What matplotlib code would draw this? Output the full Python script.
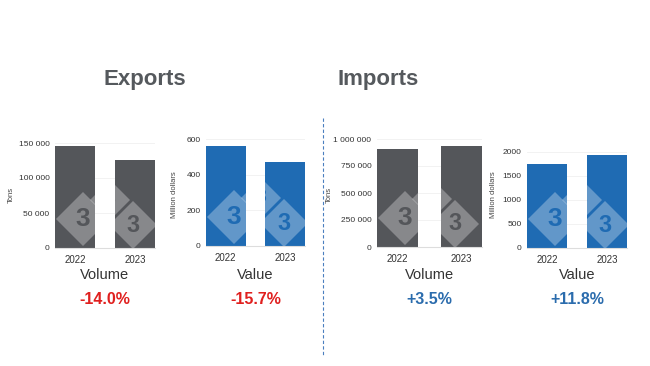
import matplotlib
matplotlib.use("Agg")
import matplotlib.pyplot as plt
from matplotlib.patches import Polygon
from matplotlib.ticker import FuncFormatter

plt.rcParams["font.family"] = ["Liberation Sans", "DejaVu Sans"]

years = ["2022", "2023"]
exp_volume = [146000, 125600]
exp_value = [560, 472]
imp_volume = [905000, 937000]
imp_value = [1740, 1945]
changes = ["-14.0%", "-15.7%", "+3.5%", "+11.8%"]
sections = ["Exports", "Imports"]
panel_names = ["Volume", "Value", "Volume", "Value"]
ylabels = ["Tons", "Million dollars", "Tons", "Million dollars"]
yticks = [[0, 50000, 100000, 150000], [0, 200, 400, 600],
          [0, 250000, 500000, 750000, 1000000], [0, 500, 1000, 1500, 2000]]

W, H = 650, 366
GRAY = "#54565a"
BLUE = "#1f6bb3"
RED = "#e0201f"
PBLUE = "#2b6cad"

fig = plt.figure(figsize=(6.5, 3.66), dpi=100)
fig.patch.set_facecolor("white")

# pixel boxes: left, right, top, bottom
boxes = [(55, 155, 143, 248), (206, 305, 139, 246), (377, 482, 139, 247), (527, 627, 152, 248)]
ylabel_x = [15, 178, 333, 497]
data = [exp_volume, exp_value, imp_volume, imp_value]
colors = [GRAY, BLUE, GRAY, BLUE]
ymax = [150000, 600, 1000000, 2000]
bw = [0.667, 0.667, 0.64, 0.667]
fmt_space = FuncFormatter(lambda v, p: f"{int(v):,}".replace(",", " "))
fmt_plain = FuncFormatter(lambda v, p: f"{int(v)}")

# watermark diamond centers in pixel offset relative to box (x from left, y from bottom)
wm = [(28, 29, 27), (55, 48, 20), (78, 23, 24)]

for i, (l, r, t, b) in enumerate(boxes):
    ax = fig.add_axes([l / W, 1 - b / H, (r - l) / W, (b - t) / H])
    w = bw[i]
    bars = ax.bar([0, 1], data[i], width=w, color=colors[i], zorder=2)
    ax.set_xlim(-w / 2, 1 + w / 2)
    ax.set_ylim(0, ymax[i])
    ax.set_yticks(yticks[i])
    ax.yaxis.set_major_formatter(fmt_plain if i == 3 else fmt_space)
    ax.set_xticks([0, 1])
    ax.set_xticklabels(years)
    ax.tick_params(axis="y", length=0, labelsize=6, colors="#333333", pad=4)
    ax.tick_params(axis="x", length=0, labelsize=7, colors="#333333", pad=5)
    for s in ["top", "right", "left"]:
        ax.spines[s].set_visible(False)
    ax.spines["bottom"].set_color("#dddddd")
    ax.spines["bottom"].set_linewidth(0.8)
    ax.grid(axis="y", color="#f0f0f0", linewidth=0.6, zorder=0)
    ax.set_axisbelow(True)
    ax.set_ylabel(ylabels[i], fontsize=5.5, color="#444444")
    pw, ph = r - l, b - t
    ax.yaxis.set_label_coords((ylabel_x[i] - l) / pw, (b - 195) / ph)
    # watermark
    for bar in bars:
        for cx, cy, hd in wm:
            fx, fy = cx / pw, cy / ph
            dx, dy = hd / pw, hd / ph
            poly = Polygon([(fx - dx, fy), (fx, fy + dy), (fx + dx, fy), (fx, fy - dy)],
                           closed=True, transform=ax.transAxes, facecolor="white",
                           alpha=0.3, edgecolor="none", zorder=3)
            ax.add_patch(poly)
            poly.set_clip_path(bar)
            tx = ax.text(fx, fy, "3", transform=ax.transAxes, ha="center", va="center",
                         fontsize=hd * 0.7, fontweight="bold", color=colors[i], zorder=4,
                         clip_on=True)
            tx.set_clip_path(bar)
    cxp = (l + r) / 2 / W
    fig.text(cxp, 1 - 275 / H, panel_names[i], ha="center", va="center",
             fontsize=10.5, color="#333333")
    fig.text(cxp, 1 - 299 / H, changes[i], ha="center", va="center",
             fontsize=11.5, fontweight="bold", color=RED if i < 2 else PBLUE)

fig.text(145 / W, 1 - 80 / H, sections[0], ha="center", va="center",
         fontsize=16, fontweight="bold", color="#55595d")
fig.text(378 / W, 1 - 80 / H, sections[1], ha="center", va="center",
         fontsize=16, fontweight="bold", color="#55595d")
fig.add_artist(plt.Line2D([323 / W, 323 / W], [1 - 118 / H, 1 - 355 / H],
                          transform=fig.transFigure, color="#4a7fbf",
                          linestyle=(0, (3, 2)), linewidth=0.8))

fig.savefig("out.png", dpi=100, facecolor="white")
